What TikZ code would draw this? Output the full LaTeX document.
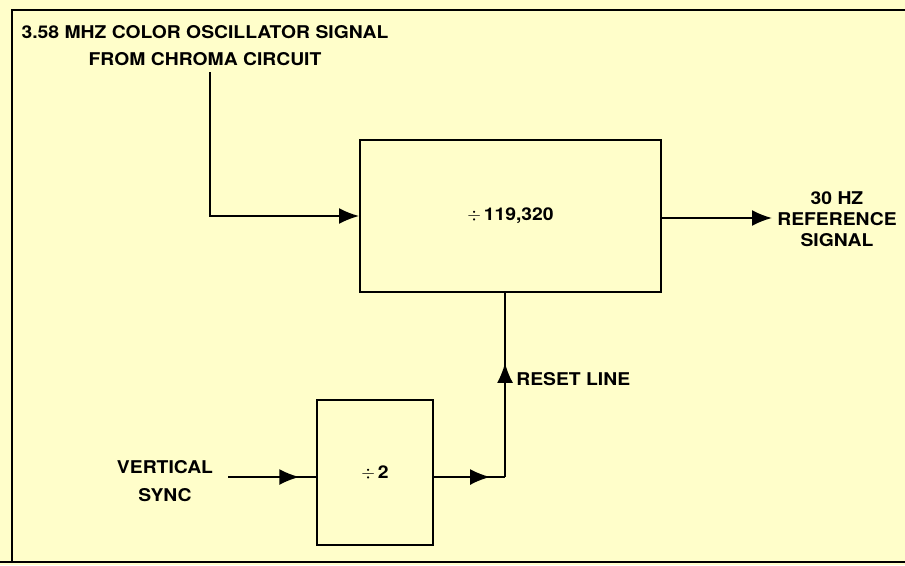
\documentclass[tikz,border=0pt]{standalone}
\usepackage{fontspec}
\setmainfont{TeX Gyre Heros}[FakeStretch=1.1]
\usetikzlibrary{arrows.meta,decorations.markings}
\definecolor{paper}{RGB}{255,254,202}
\tikzset{
  blockbox/.style={draw, line width=1.1pt, inner sep=0pt},
  lbl/.style={font=\fontsize{10}{12}\selectfont\bfseries, align=center, inner sep=0pt},
  wire/.style={line width=1.1pt},
  tip/.style={-{Latex[length=0.4cm,width=0.32cm]}},
  midtip/.style={postaction={decorate}, decoration={markings,
      mark=at position #1 with {\arrow{Latex[length=0.4cm,width=0.32cm]}}}}
}
\begin{document}
\begin{tikzpicture}[x=0.02cm,y=-0.02cm]
    \fill[paper] (0,0) rectangle (905,565);
    \useasboundingbox (0,0) rectangle (905,565);
    \draw[line width=1pt] (905,10) -- (12,10) -- (12,562);
    \draw[line width=1pt] (0,562) -- (905,562);
    % blocks
    \node[blockbox, minimum width=6.02cm, minimum height=3.04cm] (divbox) at (510.5,216) {};
    \node[lbl] at (divbox.center) {$\div$\,119,320};
    \node[blockbox, minimum width=2.32cm, minimum height=2.9cm] (halfbox) at (375,472.5) {};
    \node[lbl] at (halfbox.center) {$\div$\,2};
    % labels
    \node[lbl, font=\fontsize{10}{15.3}\selectfont\bfseries] (title) at (205,46) {3.58 MHZ COLOR OSCILLATOR SIGNAL\\FROM CHROMA CIRCUIT};
    \node[lbl] (refsig) at (837,219) {30 HZ\\REFERENCE\\SIGNAL};
    \node[lbl, font=\fontsize{10}{16}\selectfont\bfseries] (vsync) at (165,481) {VERTICAL\\SYNC};
    \node[lbl, anchor=west] (resetlbl) at (516,379) {RESET LINE};
    % connectors
    \coordinate (chroma) at (210,72);
    \coordinate (outend) at (772,218);
    \coordinate (vsyncin) at (228,477);
    \coordinate (jn) at (505,477);
    \draw[wire, tip] (chroma) |- (divbox.west);
    \draw[wire, tip] (divbox.east |- outend) -- (outend);
    \draw[wire, midtip=0.81] (vsyncin) -- (halfbox.west |- vsyncin);
    \draw[wire, midtip=0.79] (halfbox.east |- jn) -- (jn);
    \draw[wire, midtip=0.62] (jn) -- (divbox.south -| jn);
\end{tikzpicture}
\end{document}
